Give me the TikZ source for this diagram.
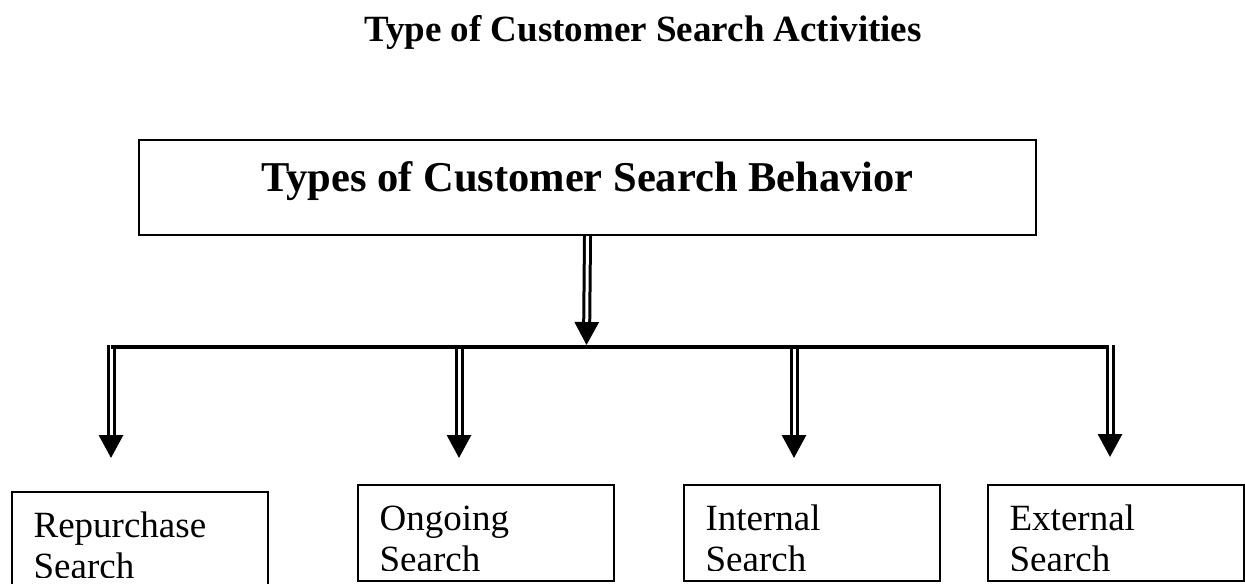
\documentclass[tikz,border=0pt]{standalone}
\usepackage{fontspec}
\setmainfont{Liberation Serif}
\usetikzlibrary{positioning}
\usetikzlibrary{arrows.meta}

\begin{document}
\begin{tikzpicture}[x=0.5pt,y=-0.5pt]
	\tikzset{dbl/.style={draw,double,line width=1.5pt,double distance=1.5pt,-{Triangle[length=11.5pt,width=12pt]}}}
	\tikzset{bus/.style={draw,line width=2pt}}
	\tikzset{leaftext/.style={draw=none,minimum width=0pt,minimum height=0pt,anchor=base west,text width=110pt,align=left,inner sep=0pt,font=\fontsize{18.5pt}{20.5pt}\selectfont}}
	\tikzset{leaf/.style={draw,line width=0.8pt,minimum width=128pt,minimum height=48pt,inner sep=0pt,anchor=north west,
		path picture={\clip (path picture bounding box.north west) rectangle ([yshift=5pt]path picture bounding box.south east);
			\node[leaftext] at ([xshift=10.5pt,yshift=-23pt]path picture bounding box.north west) {#1};}}}
	\useasboundingbox (0,0) rectangle (1245,583);
	% Place Nodes
	\node[anchor=base,font=\fontsize{18.5pt}{22pt}\selectfont\bfseries] (title) at (643,42) {Type of Customer Search Activities};
	\node[draw,line width=1pt,anchor=north west,minimum width=448.5pt,inner sep=0pt,text height=25.5pt,text depth=22pt,font=\fontsize{21.25pt}{24pt}\selectfont\bfseries] (behavior) at (138,139) {Types of Customer Search Behavior};
	\node[leaf={Repurchase\\Search}] (repurchase) at (11,491) {};
	\node[leaf={Ongoing\\Search}] (ongoing) at (357,484) {};
	\node[leaf={Internal\\Search}] (internal) at (683,484) {};
	\node[leaf={External\\Search}] (external) at (987,484) {};
	% Branch points
	\coordinate (hub) at (586.5,345);
	\coordinate (b1) at (111,345);
	\coordinate (b2) at (459,345);
	\coordinate (b3) at (794,345);
	\coordinate (b4) at (1110,345);
	\coordinate (t1) at (111,458);
	\coordinate (t2) at (459,458);
	\coordinate (t3) at (794,458);
	\coordinate (t4) at (1110,457);
	% Draw arrows
	\draw[dbl] (b1) -- (t1);
	\draw[dbl] (b2) -- (t2);
	\draw[dbl] (b3) -- (t3);
	\draw[dbl] (b4) -- (t4);
	\draw[bus] ([yshift=-1pt]b1) -- ([xshift=-1.5pt,yshift=-1pt]b4);
	\draw[dbl] (behavior.south) -- (hub);
\end{tikzpicture}
\end{document}
